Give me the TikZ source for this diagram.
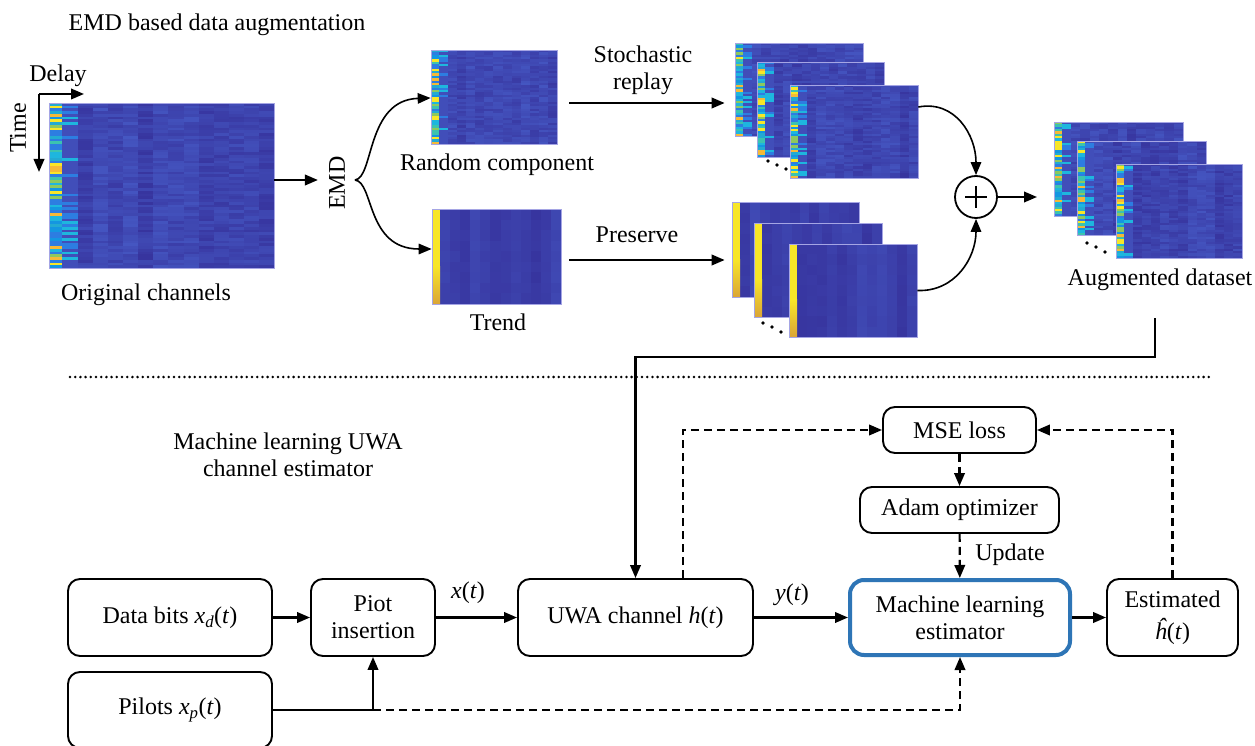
\documentclass[tikz,border=0pt]{standalone}
\usepackage{fontspec}
\setmainfont{Liberation Serif}
\usetikzlibrary{arrows.meta,calc}

\definecolor{hmlo}{RGB}{55,52,158}
\definecolor{hmhi}{RGB}{78,110,218}
\definecolor{hmc1}{RGB}{30,182,222}
\definecolor{hmc2}{RGB}{20,150,225}
\definecolor{hmc3}{RGB}{60,195,175}
\definecolor{hmc4}{RGB}{140,200,95}
\definecolor{hmc5}{RGB}{248,230,40}
\definecolor{hmc6}{RGB}{245,185,55}
\definecolor{hmc7}{RGB}{45,125,225}
\definecolor{hmc8}{RGB}{35,170,210}
\definecolor{hmorange}{RGB}{218,165,55}
\definecolor{hmframe}{RGB}{165,165,228}
\definecolor{mlblue}{RGB}{46,117,182}

% noise cells: x0 y0 x1 y1 ncols nrows basemax cellmax
\newcommand\hmcells[8]{%
  \pgfmathsetmacro\hmcw{((#3)-(#1))/(#5)}%
  \pgfmathsetmacro\hmrh{((#4)-(#2))/(#6)}%
  \foreach \hmi in {1,...,#5}{%
    \pgfmathrandominteger{\hmbase}{0}{#7}%
    \foreach \hmj in {1,...,#6}{%
      \pgfmathrandominteger{\hmv}{0}{#8}%
      \pgfmathtruncatemacro\hmm{\hmbase+\hmv}%
      \fill[fill=hmhi!\hmm!hmlo] ({(#1)+(\hmi-1)*\hmcw},{(#2)+(\hmj-1)*\hmrh}) rectangle ({(#1)+\hmi*\hmcw+0.4},{(#2)+\hmj*\hmrh+0.4});
    }%
  }%
}
% colourful first column: x0 y0 x1 y1 nrows
\newcommand\hmfirst[5]{%
  \pgfmathsetmacro\hmrh{((#4)-(#2))/(#5)}%
  \foreach \hmj in {1,...,#5}{%
    \pgfmathrandominteger{\hmk}{1}{8}%
    \fill[fill=hmc\hmk] ({#1},{(#2)+(\hmj-1)*\hmrh}) rectangle ({#3},{(#2)+\hmj*\hmrh+0.4});
  }%
}
% second column: x0 y0 x1 y1 nrows
\newcommand\hmsecond[5]{%
  \pgfmathsetmacro\hmrh{((#4)-(#2))/(#5)}%
  \foreach \hmj in {1,...,#5}{%
    \pgfmathrandominteger{\hmk}{1}{12}%
    \ifnum\hmk<3 \def\hmcol{hmc1}\else\ifnum\hmk<5 \def\hmcol{hmc7}\else\def\hmcol{hmhi!45!hmlo}\fi\fi
    \fill[fill=\hmcol] ({#1},{(#2)+(\hmj-1)*\hmrh}) rectangle ({#3},{(#2)+\hmj*\hmrh+0.4});
  }%
}
% random-type heatmap: name x0 y0 x1 y1 c1w c2w ncols nrows
\newcommand\heatR[9]{%
  \fill[hmlo] ({#2},{#3}) rectangle ({#4},{#5});
  \hmcells{(#2)+(#6)+(#7)}{#3}{#4}{#5}{#8}{#9}{25}{35}%
  \hmsecond{(#2)+(#6)}{#3}{(#2)+(#6)+(#7)}{#5}{#9}%
  \hmfirst{#2}{#3}{(#2)+(#6)}{#5}{#9}%
  \pgfmathsetmacro\hmW{(#4)-(#2)}\pgfmathsetmacro\hmH{(#5)-(#3)}%
  \node[hmbox, minimum width=\hmW pt, minimum height=\hmH pt] (#1) at ({((#2)+(#4))/2},{((#3)+(#5))/2}) {};
}
% trend-type heatmap: name x0 y0 x1 y1
\newcommand\heatT[5]{%
  \fill[hmlo] ({#2},{#3}) rectangle ({#4},{#5});
  \hmcells{(#2)+8}{#3}{#4}{#5}{12}{9}{30}{8}%
  \fill[hmc5] ({#2},{#3}) rectangle ({(#2)+8},{#5});
  \shade[top color=hmc5, bottom color=hmorange] ({#2},{(#3)+0.6*((#5)-(#3))}) rectangle ({(#2)+8},{#5});
  \pgfmathsetmacro\hmW{(#4)-(#2)}\pgfmathsetmacro\hmH{(#5)-(#3)}%
  \node[hmbox, minimum width=\hmW pt, minimum height=\hmH pt] (#1) at ({((#2)+(#4))/2},{((#3)+(#5))/2}) {};
}

\tikzset{
  hmbox/.style={draw=hmframe, line width=0.7pt, inner sep=0pt},
  arr/.style={line width=2.2pt, -{Triangle[length=13pt,width=10.5pt]}},
  carr/.style={line width=1.6pt, -{Triangle[length=13pt,width=10.5pt]}},
  darr/.style={line width=2.2pt, dash pattern=on 8pt off 5pt, -{Triangle[length=13pt,width=10.5pt]}},
  box/.style={draw, line width=1.9pt, rounded corners=12pt, align=center, inner sep=0pt},
  dotsty/.style={fill=black},
}

\begin{document}
\begin{tikzpicture}[x=1pt,y=-1pt, font=\fontsize{24}{27}\selectfont]
\useasboundingbox (0,0) rectangle (1255,746);
\clip (0,0) rectangle (1255,746);
\fill[white] (0,0) rectangle (1255,746);
\pgfmathsetseed{7}

% ---------- top section ----------
\node (title) at (217,25) {EMD based data augmentation};
\node (delay) at (58,76) {Delay};
\node[rotate=90] (time) at (18,128) {Time};
\coordinate (corner) at (39,94);
\coordinate (delayend) at (84,94);
\coordinate (timeend) at (39,172);
\draw[arr] (corner) -- (delayend);
\draw[arr] (corner) -- (timeend);

\heatR{orig}{49}{103}{274}{268}{13}{16}{13}{60}
\node (origlbl) at (146,295) {Original channels};

\node[rotate=90, inner sep=2pt] (emd) at (337,183) {EMD};
\coordinate (br) at (355,180);
\draw[arr] (orig.east |- br) -- (emd.north |- br) [shorten >=9pt];

\heatR{rand}{431}{50}{557}{144}{8}{9}{12}{40}
\heatT{trend}{432}{209}{561}{304}
\node (randlbl) at (497,165) {Random component};
\node (trendlbl) at (498,322) {Trend};

\draw[carr] (br) .. controls (374,178) and (366,100) .. ($(rand.west)+(0,1)$);
\draw[carr] (br) .. controls (374,182) and (366,249) .. ($(trend.west)+(0,-7.5)$);

\node[align=center] (stoch) at (643,70) {Stochastic\\replay};
\node (pres) at (637,235) {Preserve};

\heatR{ts1}{735}{43}{863}{136}{8}{9}{12}{40}
\heatR{ts2}{757}{62}{884}{157}{8}{9}{12}{40}
\heatR{ts3}{790}{85}{918}{178}{8}{9}{12}{40}
\heatT{bs1}{732}{202}{859}{297}
\heatT{bs2}{754}{223}{882}{317}
\heatT{bs3}{789}{244}{917}{337}

\draw[arr] ($(rand.east)+(12,6)$) -- ($(ts1.west)+(-10,13.5)$);
\draw[arr] ($(trend.east)+(8,3.5)$) -- ($(bs1.west)+(-7,10.5)$);

\fill[dotsty] (768,161) circle (1.9) (777,165) circle (1.9) (786,169) circle (1.9);
\fill[dotsty] (763,323) circle (1.9) (772,327) circle (1.9) (781,332) circle (1.9);

\node[circle, draw, line width=1.8pt, minimum size=42pt, inner sep=0pt] (plus) at (976,197) {};
\draw[line width=2pt] ($(plus.center)+(-11,0)$) -- ($(plus.center)+(11,0)$);
\draw[line width=2pt] ($(plus.center)+(0,-11)$) -- ($(plus.center)+(0,11)$);
\draw[carr] ($(ts3.east)+(0,-24.5)$) .. controls (955,100) and (976,135) .. (plus.north);
\draw[carr] (bs3.east) .. controls (955,292) and (976,258) .. (plus.south);
\coordinate (plusout) at (1037,197);
\draw[arr] (plus.east) -- (plusout);

\heatR{ag1}{1054}{122}{1183}{216}{8}{9}{12}{40}
\heatR{ag2}{1077}{141}{1206}{235}{8}{9}{12}{40}
\heatR{ag3}{1116}{164}{1242}{258}{8}{9}{12}{40}
\fill[dotsty] (1087,243) circle (1.9) (1096,247) circle (1.9) (1105,252) circle (1.9);
\node (auglbl) at (1160,280) {Augmented dataset};

% separator
\coordinate (sepL) at (70,377);
\coordinate (sepR) at (1210,377);
\draw[line width=2.8pt, line cap=round, dash pattern=on 0pt off 5.2pt] (sepL) -- (sepR);

% ---------- bottom section ----------
\node[align=center] (mltitle) at (288,455) {Machine learning UWA\\channel estimator};

\node[box, minimum width=204pt, minimum height=77pt] (data) at (170,617.5) {Data bits \textit{x}\textsubscript{\textit{d}}(\textit{t})};
\node[box, minimum width=204pt, minimum height=76pt] (pil) at (170,710) {Pilots \textit{x}\textsubscript{\textit{p}}(\textit{t})};
\node[box, minimum width=124pt, minimum height=77pt] (piot) at (373,617.5) {Piot\\insertion};
\node[box, minimum width=235pt, minimum height=77pt] (uwa) at (635.5,617.5) {UWA channel \textit{h}(\textit{t})};
\node[box, draw=mlblue, line width=4pt, rounded corners=14pt, minimum width=220pt, minimum height=75pt] (ml) at (960,617.5) {Machine learning\\estimator};
\node[box, minimum width=131pt, minimum height=77pt] (est) at (1172.5,617.5) {Estimated\\[5pt]\textit{ĥ}(\textit{t})};
\node[box, minimum width=153pt, minimum height=46pt] (mse) at (959.5,430) {MSE loss};
\node[box, minimum width=199pt, minimum height=46pt] (adam) at (959.5,510) {Adam optimizer};

\node (xt) at (468,593) {\textit{x}(\textit{t})};
\node (yt) at (792,595) {\textit{y}(\textit{t})};
\node (upd) at (1010,555) {Update};

\coordinate (augout) at (1155,318);
\coordinate (augbend) at (1155,357);
\draw[arr] (augout) -- (augbend) -| (uwa.north);

\draw[arr] (data) -- (piot);
\draw[arr] (piot) -- (uwa);
\draw[arr] (uwa) -- (ml);
\draw[arr] (ml) -- (est);
\draw[arr] (pil.east) -| (piot.south);
\draw[darr] (piot.south |- pil.east) -| (ml.south);
\draw[darr] ($(uwa.north)+(47.5,0)$) |- (mse.west);
\draw[darr] (est.north) |- (mse.east);
\draw[darr] (mse) -- (adam);
\draw[darr] (adam) -- (ml);
\end{tikzpicture}
\end{document}
